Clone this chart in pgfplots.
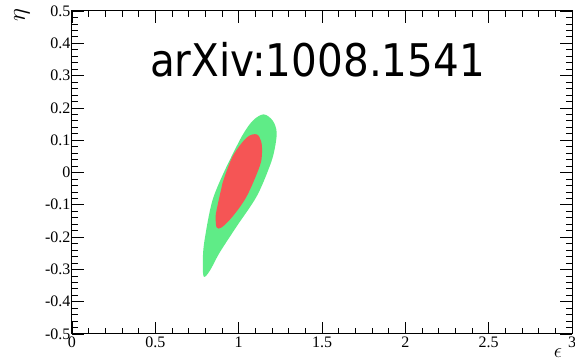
\documentclass[border=0pt]{standalone}
\usepackage{pgfplots}
\pgfplotsset{compat=1.18}
\usepackage{fontspec}
\setmainfont{Liberation Serif}
\newfontfamily\labelfont{DejaVu Sans}[FakeStretch=0.9]
\definecolor{cgreen}{RGB}{95,236,135}
\definecolor{cred}{RGB}{245,85,85}
\begin{document}
\begin{tikzpicture}
\begin{axis}[
  width=500bp, height=323bp, scale only axis,
  xmin=0, xmax=3, ymin=-0.5, ymax=0.5,
  xtick={0,0.5,1,1.5,2,2.5,3},
  ytick={-0.5,-0.4,-0.3,-0.2,-0.1,0,0.1,0.2,0.3,0.4,0.5},
  yticklabels={-0.5,-0.4,-0.3,-0.2,-0.1,0,0.1,0.2,0.3,0.4,0.5},
  xticklabels={0,0.5,1,1.5,2,2.5,3},
  minor x tick num=4, minor y tick num=4,
  tick align=inside,
  major tick length=12bp, minor tick length=6bp,
  tick style={black, line width=0.7bp},
  axis line style={black, line width=1bp},
  every tick label/.append style={font=\rmfamily\fontsize{16bp}{18bp}\selectfont},
  yticklabel style={xshift=2bp},
  xticklabel style={yshift=1bp},
  /pgf/number format/assume math mode=true,
  clip=false,
]
\addplot[fill=cgreen, draw=none, smooth, tension=0.55] coordinates {
(0.928,0.019) (1.018,0.111) (1.084,0.160) (1.150,0.180) (1.205,0.160)
(1.228,0.124) (1.215,0.070) (1.186,0.019)
(1.108,-0.074) (0.988,-0.167) (0.886,-0.248) (0.826,-0.305) (0.790,-0.322)
(0.785,-0.270) (0.796,-0.207) (0.844,-0.084) (0.928,0.019)};
\addplot[fill=cred, draw=none, smooth, tension=0.55] coordinates {
(0.904,-0.031) (0.964,0.050) (1.048,0.108) (1.108,0.118) (1.135,0.096) (1.140,0.060) (1.126,0.019) (1.048,-0.074)
(0.964,-0.136) (0.898,-0.170) (0.868,-0.170) (0.862,-0.140) (0.868,-0.115)
(0.904,-0.031)};
\node[anchor=base, font=\labelfont\fontsize{45bp}{50bp}\selectfont] at (axis cs:1.473,0.297) {arXiv:1008.1541};
\node[rotate=90, font=\fontsize{26bp}{28bp}\selectfont] at ([shift={(-50bp,-4bp)}]rel axis cs:0,1) {$\eta$};
\node[font=\fontsize{22bp}{24bp}\selectfont] at ([shift={(-14bp,-19bp)}]rel axis cs:1,0) {$\epsilon$};
\coordinate (BL) at (rel axis cs:0,0);
\coordinate (TR) at (rel axis cs:1,1);
\end{axis}
\pgfresetboundingbox
\useasboundingbox ([shift={(-72bp,-28bp)}]BL) rectangle ([shift={(3bp,11bp)}]TR);
\end{tikzpicture}
\end{document}
